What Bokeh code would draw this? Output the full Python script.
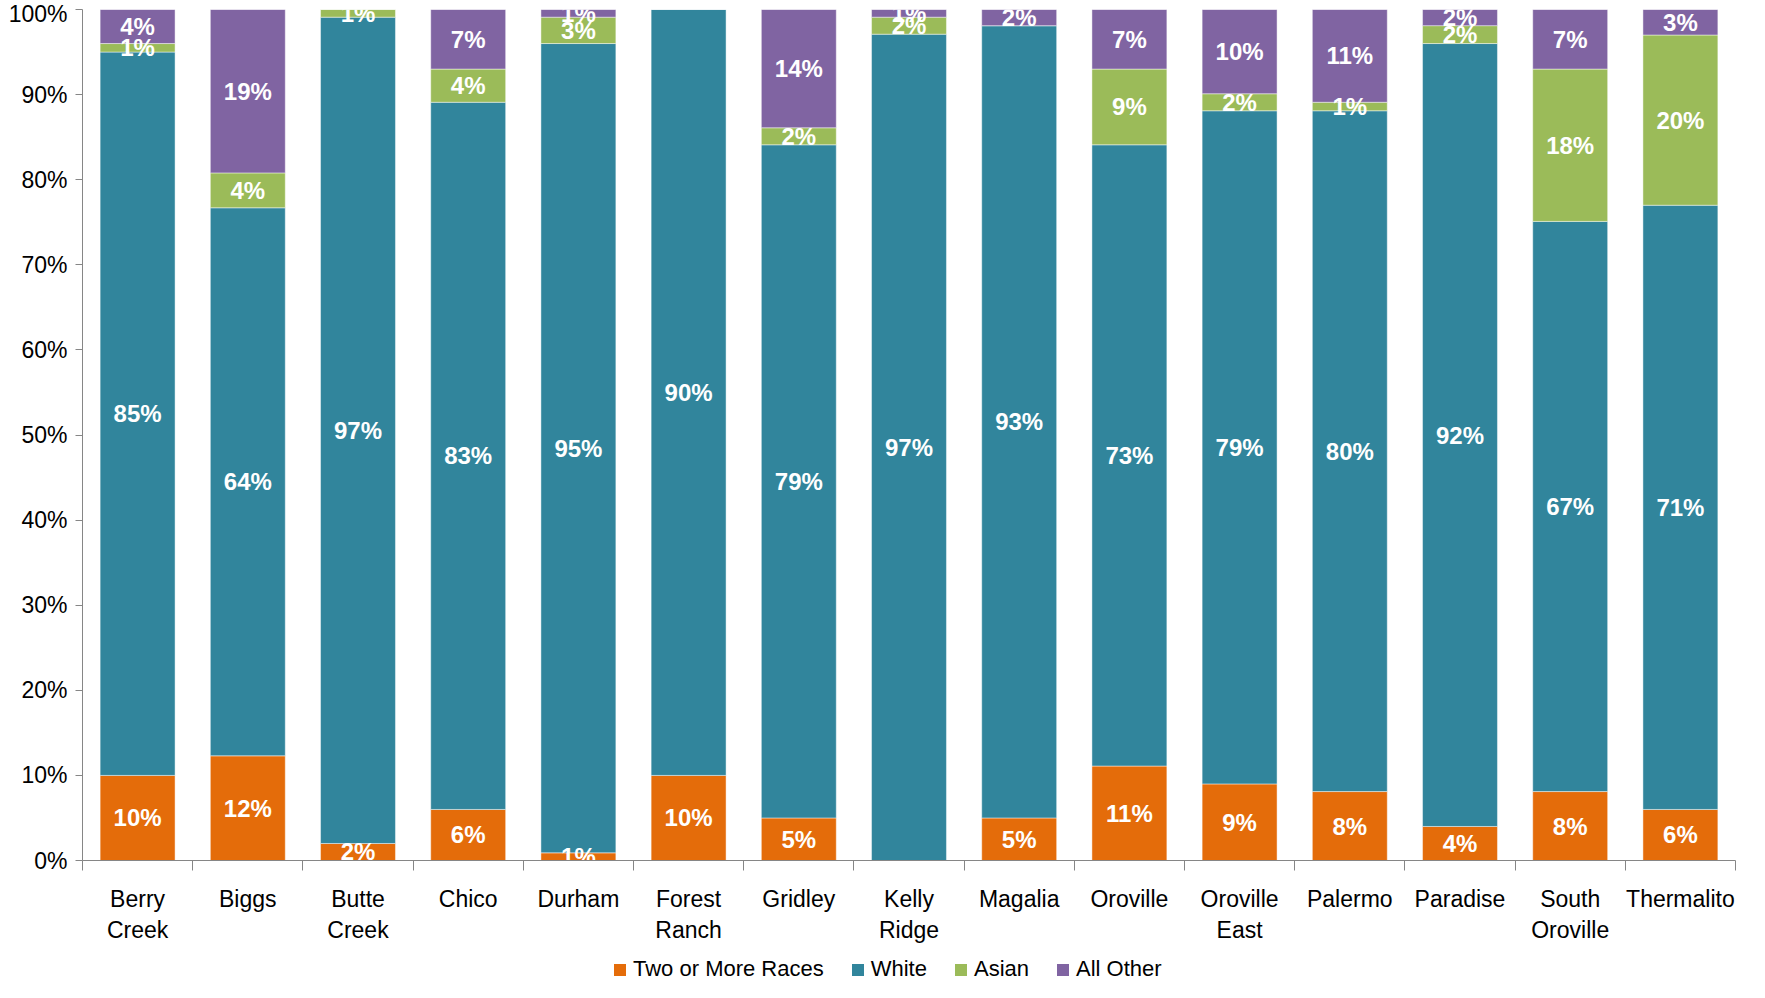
from bokeh.plotting import figure
from bokeh.layouts import column
from bokeh.models import (ColumnDataSource, FixedTicker, Legend, LegendItem, LabelSet,
                          PrintfTickFormatter, Range1d)
from bokeh.core.properties import value
from bokeh.embed import file_html
from bokeh.resources import INLINE

categories = ["Berry Creek", "Biggs", "Butte Creek", "Chico", "Durham", "Forest Ranch",
              "Gridley", "Kelly Ridge", "Magalia", "Oroville", "Oroville East", "Palermo",
              "Paradise", "South Oroville", "Thermalito"]
tick_labels = ["Berry\nCreek", "Biggs", "Butte\nCreek", "Chico", "Durham", "Forest\nRanch",
               "Gridley", "Kelly\nRidge", "Magalia", "Oroville", "Oroville\nEast", "Palermo",
               "Paradise", "South\nOroville", "Thermalito"]

two_or_more = [10.0, 12.3, 2.0, 6.0, 0.9, 10.0, 5.0, 0.0, 5.0, 11.1, 9.0, 8.1, 4.0, 8.1, 6.0]
white = [85.0, 64.4, 97.1, 83.1, 95.1, 90.0, 79.1, 97.1, 93.1, 73.0, 79.1, 80.0, 92.0, 67.0, 71.0]
asian = [1.0, 4.1, 0.9, 3.9, 3.1, 0.0, 2.0, 2.0, 0.0, 8.9, 2.0, 1.0, 2.1, 17.9, 20.0]
all_other = [4.0, 19.2, 0.0, 7.0, 0.9, 0.0, 13.9, 0.9, 1.9, 7.0, 9.9, 10.9, 1.9, 7.0, 3.0]

series_names = ["Two or More Races", "White", "Asian", "All Other"]
series_values = [two_or_more, white, asian, all_other]
colors = ["#E46C0A", "#31859C", "#9BBB59", "#8064A2"]

FONT = "Liberation Sans"

xs = list(range(len(categories)))
data = {"x": xs}
keys = ["s0", "s1", "s2", "s3"]
for k, v in zip(keys, series_values):
    data[k] = v
source = ColumnDataSource(data)

p = figure(width=1749, height=945, output_backend="svg", toolbar_location=None,
           x_range=Range1d(-0.5, len(categories) - 0.5), y_range=Range1d(0, 100),
           min_border_left=82, min_border_right=14, min_border_top=9, min_border_bottom=84)
p.outline_line_color = None
p.xgrid.visible = False
p.ygrid.visible = False

renderers = p.vbar_stack(keys, x="x", width=0.68, source=source, color=colors,
                         line_color="white", line_alpha=0.45, line_width=1)

# segment labels: bottom series clipped by the frame (as in the reference), others free
bx, by, bt = [], [], []
ux, uy, ut = [], [], []
for i in range(len(categories)):
    bottom = 0.0
    for s, vals in enumerate(series_values):
        v = vals[i]
        if round(v) >= 1:
            if s == 0:
                bx.append(xs[i]); by.append(bottom + v / 2); bt.append(f"{round(v)}%")
            else:
                ux.append(xs[i]); uy.append(bottom + v / 2); ut.append(f"{round(v)}%")
        bottom += v

bsrc = ColumnDataSource(dict(x=bx, y=by, t=bt))
p.text(x="x", y="y", text="t", source=bsrc, text_align="center", text_baseline="middle",
       text_color="white", text_font=value(FONT), text_font_style="bold",
       text_font_size="24px")
usrc = ColumnDataSource(dict(x=ux, y=uy, t=ut))
p.add_layout(LabelSet(x="x", y="y", text="t", source=usrc, text_align="center",
                      text_baseline="middle", text_color="white", text_font=value(FONT),
                      text_font_style="bold", text_font_size="24px"))

# axes
ya = p.yaxis[0]
ya.ticker = FixedTicker(ticks=list(range(0, 101, 10)))
ya.formatter = PrintfTickFormatter(format="%d%%")
ya.axis_line_color = "#868686"
ya.major_tick_line_color = "#868686"
ya.major_tick_out = 7
ya.major_tick_in = 0
ya.minor_tick_line_color = None
ya.major_label_standoff = 8
ya.major_label_text_font = FONT
ya.major_label_text_font_size = "23px"
ya.major_label_text_color = "#000000"

xa = p.xaxis[0]
xa.ticker = FixedTicker(ticks=xs, minor_ticks=[x - 0.5 for x in xs] + [xs[-1] + 0.5])
xa.major_label_overrides = {x: lab for x, lab in zip(xs, tick_labels)}
xa.axis_line_color = "#868686"
xa.major_tick_line_color = None
xa.major_tick_out = 10
xa.major_tick_in = 0
xa.minor_tick_line_color = "#868686"
xa.minor_tick_out = 10
xa.minor_tick_in = 0
xa.major_label_standoff = 15
xa.major_label_text_font = FONT
xa.major_label_text_font_size = "23px"
xa.major_label_text_color = "#000000"

# legend strip underneath: its own small figure, keyed by hidden copies of the series
lp = figure(width=1749, height=37, output_backend="svg", toolbar_location=None,
            min_border=0, x_range=Range1d(0, 1), y_range=Range1d(0, 1))
lp.axis.visible = False
lp.grid.visible = False
lp.outline_line_color = None
keyr = lp.vbar_stack(keys, x="x", width=0.68, source=source, color=colors, line_color=None)
for r in keyr:
    r.visible = False
legend = Legend(items=[LegendItem(label=n, renderers=[r]) for n, r in zip(series_names, keyr)],
                orientation="horizontal", location=(530, 0),
                label_text_font=FONT, label_text_font_size="22px", label_text_color="#000000",
                glyph_width=15, glyph_height=15, label_standoff=6, spacing=26,
                border_line_color=None, background_fill_alpha=0, padding=0, margin=0,
                inactive_fill_alpha=0)
lp.add_layout(legend, "center")

layout = column(p, lp, spacing=0)
open("out.html", "w").write(file_html(layout, INLINE))
